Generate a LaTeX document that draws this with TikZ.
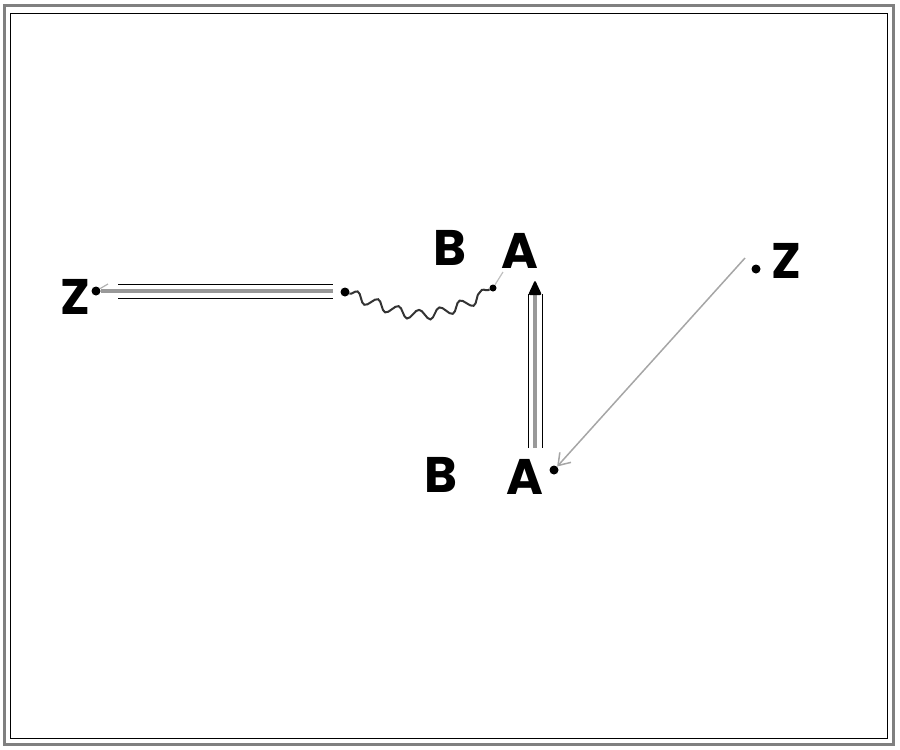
\documentclass[tikz,border=0pt]{standalone}
\usepackage{fontspec}
\newfontfamily\lblfont{Poppins}
\usetikzlibrary{arrows.meta,decorations.pathmorphing,calc}
\begin{document}
\begin{tikzpicture}[x=1pt,y=-1pt,
  lbl/.style={font=\lblfont\bfseries\fontsize{50}{50}\selectfont, inner sep=0pt, anchor=center},
  dotmark/.style={circle, fill=black, inner sep=0pt, minimum size=9pt},
  dblouter/.style={draw=black, line width=1pt, double=white, double distance=13pt},
  dblinner/.style={draw=gray!80, line width=3.5pt},
  snakeline/.style={draw=black!80, line width=2pt, decorate, decoration={snake, amplitude=5pt, segment length=22pt}},
  thinarrow/.style={draw=gray!70, line width=1.5pt, -{Straight Barb[length=11pt,width=15pt]}}
]
\useasboundingbox (0,0) rectangle (900,750);
\draw[gray, line width=3pt] (4,5) rectangle (893,744);
\draw[black, line width=1pt] (10,13) rectangle (887,738);

% labels
\node[lbl] (B1) at (450,248) {B};
\node[lbl] (A1) at (520,251) {A};
\node[lbl] (Z1) at (75,297) {Z};
\node[lbl] (B2) at (441,475) {B};
\node[lbl] (A2) at (525,477) {A};
\node[lbl] (Z2) at (786,261) {Z};

% dots / coordinates
\node[dotmark] (dZ1) at (96,291) {};
\node[dotmark] (dW1) at (345,292) {};
\node[dotmark, minimum size=7pt] (dW2) at (493,288) {};
\node[dotmark] (dA2) at (554,470) {};
\node[dotmark] (dZ2) at (756,269) {};
\coordinate (h1) at (118,291);
\coordinate (h2) at (333,291);
\coordinate (hb) at (108,284);
\coordinate (v1) at (535,448);
\coordinate (v2) at (535,294);
\coordinate (vt) at (535,280);
\coordinate (ds) at (745,258);
\coordinate (wc) at (418,320);
\coordinate (wt) at (503,272);

% horizontal double arrow to left Z
\draw[dblouter] (h1) -- (h2);
\draw[dblinner] (h2) -- (dZ1);
\draw[gray!60, line width=1.2pt] (hb) -- (dZ1);

% vertical double arrow up to upper A
\draw[dblouter] (v1) -- (v2);
\draw[dblinner] (v1) -- (v2);
\fill[black, rounded corners=2pt] (vt) -- ++(7,15) -- ++(-14,0) -- cycle;

% wavy
\draw[snakeline] (dW1) .. controls (wc) .. (dW2);
\draw[gray!50, line width=1.2pt] (dW2) -- (wt);

% diagonal arrow
\draw[thinarrow] (ds) -- (dA2);
\end{tikzpicture}
\end{document}
